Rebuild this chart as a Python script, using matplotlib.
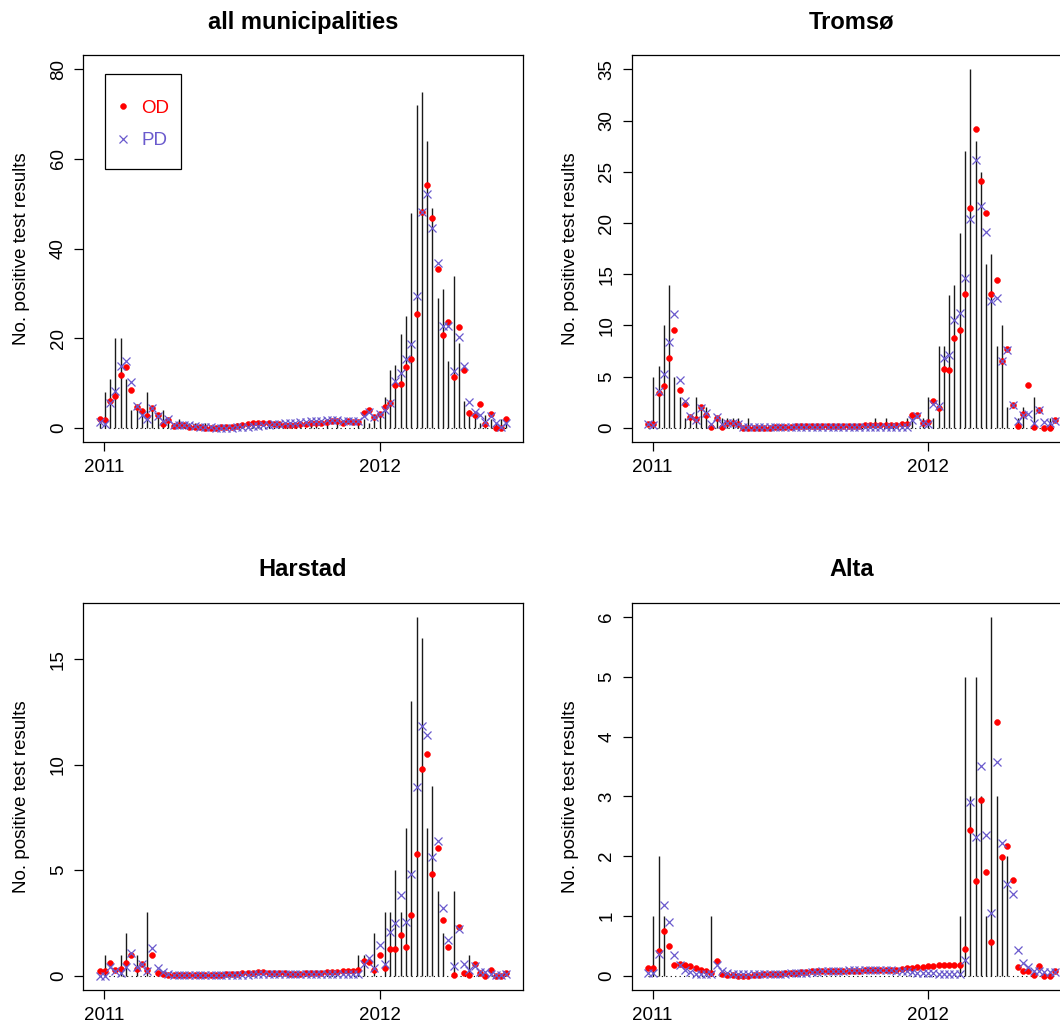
import matplotlib
import numpy as np

matplotlib.use("Agg")
import matplotlib.pyplot as plt
from matplotlib.lines import Line2D
from matplotlib.patches import Rectangle


OUTPUT_PATH = "out.png"
FIG_W, FIG_H = 1060, 1030
DPI = 100

FONT_TITLE = 17
FONT_LABELS = 13.5
FONT_TICKS = 13.5

OD_COLOR = "red"
PD_COLOR = "#6A5ACD"
DOT_SIZE = 4.2
CROSS_SIZE = 6.0

# weekly series, first week starting 2010-12-26
FIRST_WEEK = "2010-12-26"

ALL_COUNTS = [1, 8, 11, 20, 20, 11, 4, 5, 4, 8, 5, 3, 4, 2, 1, 2, 1, 1,
              1, 0, 1, 0, 0, 0, 0, 0, 1, 1, 0, 1, 1, 0, 1, 0, 1, 1, 0, 1,
              1, 0, 1, 1, 0, 1, 0, 1,
              0, 0, 0, 1, 2, 1, 2, 3, 7, 13, 14, 21, 25, 48, 72, 75, 64, 49,
              29, 31, 15, 34, 19, 6, 4, 3, 1, 3, 2, 1, 2, 2]
ALL_OD = [1.9, 1.8, 6.0, 7.2, 11.8, 13.5, 8.5, 4.6, 3.8, 2.7, 4.4, 2.8, 0.9, 1.8, 0.4, 0.7, 0.7, 0.3,
          0.2, 0.15, 0.1, 0.1, 0.1, 0.15, 0.2, 0.3, 0.5, 0.7, 0.9, 1.0, 1.1, 1.1, 1.0, 0.9, 0.8, 0.7,
          0.7, 0.7, 0.8, 0.9, 1.0, 1.1, 1.2, 1.4, 1.5, 1.6,
          1.2, 1.6, 1.4, 1.4, 3.3, 3.9, 2.4, 3.1, 4.6, 5.6, 9.6, 9.8, 13.5, 15.4, 25.4, 48.1, 54.2,
          46.8, 35.4, 20.8, 23.6, 11.4, 22.5, 13.0, 3.4, 2.8, 5.3, 0.8, 3.1, 0.1, 0.0, 2.1]
ALL_PD = [1.4, 0.9, 5.5, 8.3, 13.8, 15.0, 10.2, 4.8, 2.9, 1.9, 4.5, 2.7, 1.6, 1.9, 0.7, 0.7, 0.7, 0.7,
          0.5, 0.3, 0.2, 0.15, 0.1, 0.1, 0.1, 0.1, 0.15, 0.2, 0.3, 0.4, 0.5, 0.6, 0.7, 0.8, 0.9, 1.0,
          1.1, 1.2, 1.3, 1.4, 1.5, 1.6, 1.6, 1.7, 1.7, 1.7,
          1.6, 1.6, 1.6, 1.6, 2.7, 3.5, 2.5, 3.1, 3.9, 5.6, 10.5, 12.2, 15.4, 18.7, 29.4, 48.2, 52.2,
          44.5, 36.8, 22.8, 22.8, 12.8, 20.4, 13.8, 5.8, 3.6, 2.9, 1.4, 2.7, 1.0, 0.3, 1.2]

TROMSO_COUNTS = [0, 5, 6, 10, 14, 5, 3, 1, 1, 3, 2, 2, 0, 1, 1, 1, 1, 1,
                 0, 1, 0, 0, 0, 0, 0, 0, 0, 0, 0, 0, 0, 0, 0, 0, 0, 0, 0, 0,
                 0, 0, 0, 0, 0, 1, 0, 1,
                 0, 0, 0, 1, 1, 0, 1, 3, 1, 8, 8, 13, 14, 19, 27, 35, 28, 25,
                 16, 17, 8, 10, 2, 0, 1, 2, 0, 3, 0, 0, 1, 0]
TROMSO_OD = [0.4, 0.4, 3.4, 4.1, 6.8, 9.6, 3.7, 2.3, 1.1, 0.9, 2.0, 1.3, 0.1, 1.0, 0.1, 0.5, 0.5, 0.4,
             0.02, 0.02, 0.02, 0.03, 0.03, 0.04, 0.05, 0.07, 0.1, 0.12, 0.15, 0.18, 0.2, 0.2, 0.2, 0.2,
             0.2, 0.2, 0.2, 0.2, 0.2, 0.2, 0.22, 0.24, 0.26, 0.28, 0.3, 0.3,
             0.3, 0.3, 0.4, 0.4, 1.3, 1.3, 0.5, 0.6, 2.6, 1.9, 5.8, 5.7, 8.8, 9.6, 13.1, 21.5, 29.2,
             24.1, 21.0, 13.1, 14.4, 6.5, 7.7, 2.2, 0.2, 1.4, 4.2, 0.1, 1.8, 0.0, 0.0, 0.8]
TROMSO_PD = [0.4, 0.3, 3.6, 5.3, 8.4, 11.1, 4.7, 2.6, 1.2, 0.8, 1.9, 1.5, 0.4, 1.1, 0.4, 0.5, 0.5, 0.4,
             0.08, 0.06, 0.05, 0.05, 0.05, 0.05, 0.05, 0.05, 0.05, 0.05, 0.05, 0.05, 0.05, 0.05, 0.05,
             0.05, 0.05, 0.05, 0.05, 0.05, 0.05, 0.06, 0.06, 0.07, 0.08, 0.09, 0.1, 0.1,
             0.1, 0.1, 0.1, 0.1, 0.8, 1.2, 0.5, 0.4, 2.3, 2.1, 6.8, 7.1, 10.5, 11.2, 14.6, 20.4, 26.2,
             21.7, 19.1, 12.4, 12.7, 6.5, 7.6, 2.2, 0.7, 1.3, 1.4, 0.5, 1.8, 0.6, 0.5, 0.7]

HARSTAD_COUNTS = [0, 1, 0, 0, 1, 2, 0, 1, 0, 3, 0, 0, 0, 0, 0, 0, 0, 0,
                  0, 0, 0, 0, 0, 0, 0, 0, 0, 0, 0, 0, 0, 0, 0, 0, 0, 0, 0, 0,
                  0, 0, 0, 0, 0, 0, 0, 0,
                  0, 0, 0, 1, 1, 0, 2, 0, 3, 3, 5, 3, 7, 13, 17, 16, 7, 9,
                  4, 2, 0, 4, 0, 0, 1, 0, 0, 0, 0, 0, 0, 0]
HARSTAD_OD = [0.2, 0.2, 0.6, 0.25, 0.3, 0.6, 1.0, 0.3, 0.55, 0.25, 1.0, 0.13, 0.08, 0.05, 0.04, 0.03,
              0.03, 0.03,
              0.03, 0.03, 0.03, 0.03, 0.04, 0.05, 0.06, 0.08, 0.1, 0.12, 0.13, 0.14, 0.15, 0.15, 0.14,
              0.13, 0.12, 0.11, 0.1, 0.1, 0.1, 0.11, 0.12, 0.13, 0.14, 0.15, 0.17, 0.19,
              0.2, 0.2, 0.24, 0.25, 0.68, 0.66, 0.28, 1.0, 0.36, 1.26, 1.26, 1.93, 1.35, 2.88, 5.79,
              9.8, 10.5, 4.8, 6.07, 2.64, 1.38, 0.05, 2.33, 0.13, 0.03, 0.57, 0.13, 0.0, 0.25, 0.0,
              0.0, 0.13]
HARSTAD_PD = [0.0, 0.0, 0.4, 0.2, 0.12, 0.4, 1.07, 0.4, 0.55, 0.2, 1.3, 0.36, 0.16, 0.1, 0.05, 0.04,
              0.03, 0.03,
              0.03, 0.03, 0.03, 0.03, 0.03, 0.03, 0.03, 0.04, 0.04, 0.05, 0.05, 0.06, 0.06, 0.07, 0.07,
              0.08, 0.08, 0.08, 0.09, 0.09, 0.09, 0.1, 0.1, 0.1, 0.1, 0.1, 0.1, 0.1,
              0.1, 0.1, 0.1, 0.1, 0.55, 0.86, 0.36, 1.46, 0.57, 2.09, 2.48, 3.82, 2.52, 4.84, 8.93,
              11.84, 11.4, 5.63, 6.4, 3.19, 1.7, 0.47, 2.2, 0.57, 0.25, 0.44, 0.16, 0.16, 0.1, 0.05,
              0.05, 0.1]

ALTA_COUNTS = [0, 1, 2, 1, 0, 0, 0, 0, 0, 0, 0, 0, 1, 0, 0, 0, 0, 0,
               0, 0, 0, 0, 0, 0, 0, 0, 0, 0, 0, 0, 0, 0, 0, 0, 0, 0, 0, 0,
               0, 0, 0, 0, 0, 0, 0, 0,
               0, 0, 0, 0, 0, 0, 0, 0, 0, 0, 0, 0, 0, 1, 5, 3, 5, 3,
               1, 6, 3, 2, 2, 0, 0, 0, 0, 0, 0, 0, 0, 0]
ALTA_OD = [0.13, 0.12, 0.41, 0.75, 0.49, 0.18, 0.2, 0.18, 0.16, 0.12, 0.1, 0.07, 0.04, 0.24, 0.02,
           0.01, 0.01, 0.0,
           0.0, 0.0, 0.01, 0.01, 0.02, 0.02, 0.03, 0.03, 0.04, 0.05, 0.05, 0.06, 0.06, 0.07, 0.07,
           0.07, 0.07, 0.07, 0.08, 0.08, 0.08, 0.08, 0.08, 0.09, 0.09, 0.09, 0.09, 0.09,
           0.09, 0.1, 0.11, 0.12, 0.13, 0.14, 0.15, 0.16, 0.16, 0.17, 0.17, 0.17, 0.17, 0.17, 0.45,
           2.43, 1.59, 2.94, 1.73, 0.57, 4.24, 1.99, 2.17, 1.6, 0.14, 0.08, 0.08, 0.01, 0.16, 0.0,
           0.0, 0.08]
ALTA_PD = [0.04, 0.04, 0.36, 1.18, 0.89, 0.35, 0.18, 0.1, 0.06, 0.03, 0.02, 0.02, 0.02, 0.17, 0.07,
           0.04, 0.03, 0.02,
           0.02, 0.02, 0.02, 0.02, 0.02, 0.02, 0.03, 0.03, 0.03, 0.04, 0.04, 0.05, 0.05, 0.06, 0.06,
           0.07, 0.07, 0.08, 0.08, 0.08, 0.09, 0.09, 0.09, 0.09, 0.09, 0.09, 0.09, 0.09,
           0.09, 0.08, 0.07, 0.07, 0.06, 0.05, 0.05, 0.04, 0.04, 0.03, 0.03, 0.03, 0.03, 0.03, 0.27,
           2.9, 2.32, 3.51, 2.35, 1.05, 3.58, 2.22, 1.54, 1.37, 0.43, 0.22, 0.14, 0.07, 0.07, 0.06,
           0.06, 0.06]

TITLES = ["all municipalities", "Tromsø", "Harstad", "Alta"]
Y_MAX = [80, 35, 17, 6]
Y_TICKS = [[0, 20, 40, 60, 80], [0, 5, 10, 15, 20, 25, 30, 35], [0, 5, 10, 15], [0, 1, 2, 3, 4, 5, 6]]
X_TICKS = ["2011-01-01", "2012-01-01"]
X_TICK_LABELS = ["2011", "2012"]

# axes boxes in pixels: left, top, width, height
AXES_PX = [
    (83.3, 55.0, 439.4, 387.3),
    (631.7, 55.0, 439.4, 387.3),
    (83.3, 602.7, 439.4, 387.3),
    (631.7, 602.7, 439.4, 387.3),
]


def day_offset(dates):
    return (np.asarray(dates, dtype="datetime64[D]") - np.datetime64("2011-01-01")).astype(float)


def add_axes(fig, box):
    left, top, width, height = box
    return fig.add_axes([left / FIG_W, 1 - (top + height) / FIG_H, width / FIG_W, height / FIG_H])


def plot_panel(ax, title, counts, od, pd_, y_max, y_ticks):
    n = len(counts)
    weeks = np.datetime64(FIRST_WEEK) + 7 * np.arange(n)
    x = day_offset(weeks)

    ax.hlines(0, x[0], x[-1], colors="black", linestyles=(0, (1, 3)), linewidth=0.8, zorder=1)
    ax.vlines(x, 0, counts, colors="#1a1a1a", linewidth=1.0, zorder=2)
    ax.plot(x, od, linestyle="none", marker="o", markersize=DOT_SIZE, color=OD_COLOR,
            markeredgewidth=0.4, zorder=3)
    ax.plot(x, pd_, linestyle="none", marker="x", markersize=CROSS_SIZE, color=PD_COLOR,
            markeredgewidth=0.9, zorder=4)

    span = x[-1] - x[0]
    ax.set_xlim(x[0] - 0.04 * span, x[-1] + 0.04 * span)
    ax.set_ylim(-0.04 * y_max, 1.04 * y_max)

    ax.set_xticks(day_offset(X_TICKS))
    ax.set_xticklabels(X_TICK_LABELS)
    ax.set_yticks(y_ticks)
    ax.set_yticklabels([str(t) for t in y_ticks], rotation=90, va="center")

    ax.tick_params(axis="both", direction="out", length=6.8, width=0.9, labelsize=FONT_TICKS)
    ax.tick_params(axis="x", pad=5.5)
    ax.tick_params(axis="y", pad=5)
    for spine in ax.spines.values():
        spine.set_linewidth(0.9)

    ax.set_title(title, fontsize=FONT_TITLE, fontweight="bold", pad=19)
    ax.set_ylabel("No. positive test results", fontsize=FONT_LABELS)
    ax.yaxis.set_label_coords(-0.121, 0.5)


def add_legend(ax):
    ax.add_patch(Rectangle((0.0494, 0.7057), 0.1723, 0.2445, transform=ax.transAxes,
                           fill=False, edgecolor="black", linewidth=0.9, zorder=5))
    handles = [
        Line2D([], [], linestyle="none", marker="o", markersize=DOT_SIZE, color=OD_COLOR,
               markeredgewidth=0.4),
        Line2D([], [], linestyle="none", marker="x", markersize=CROSS_SIZE, color=PD_COLOR,
               markeredgewidth=0.9),
    ]
    ax.legend(handles, ["OD", "PD"], loc="upper left", bbox_to_anchor=(0.0683, 0.884),
              frameon=False, fontsize=FONT_LABELS, labelcolor=[OD_COLOR, PD_COLOR],
              borderpad=0, borderaxespad=0, handlelength=1.0, handletextpad=0.5,
              labelspacing=0.81)


def main():
    plt.rcParams["font.family"] = ["Liberation Sans", "DejaVu Sans"]

    fig = plt.figure(figsize=(FIG_W / DPI, FIG_H / DPI), dpi=DPI)
    panels = [
        (ALL_COUNTS, ALL_OD, ALL_PD),
        (TROMSO_COUNTS, TROMSO_OD, TROMSO_PD),
        (HARSTAD_COUNTS, HARSTAD_OD, HARSTAD_PD),
        (ALTA_COUNTS, ALTA_OD, ALTA_PD),
    ]

    for k, (counts, od, pd_) in enumerate(panels):
        ax = add_axes(fig, AXES_PX[k])
        plot_panel(ax, TITLES[k], counts, od, pd_, Y_MAX[k], Y_TICKS[k])
        if k == 0:
            add_legend(ax)

    fig.savefig(OUTPUT_PATH, dpi=DPI)
    plt.close(fig)


if __name__ == "__main__":
    main()
